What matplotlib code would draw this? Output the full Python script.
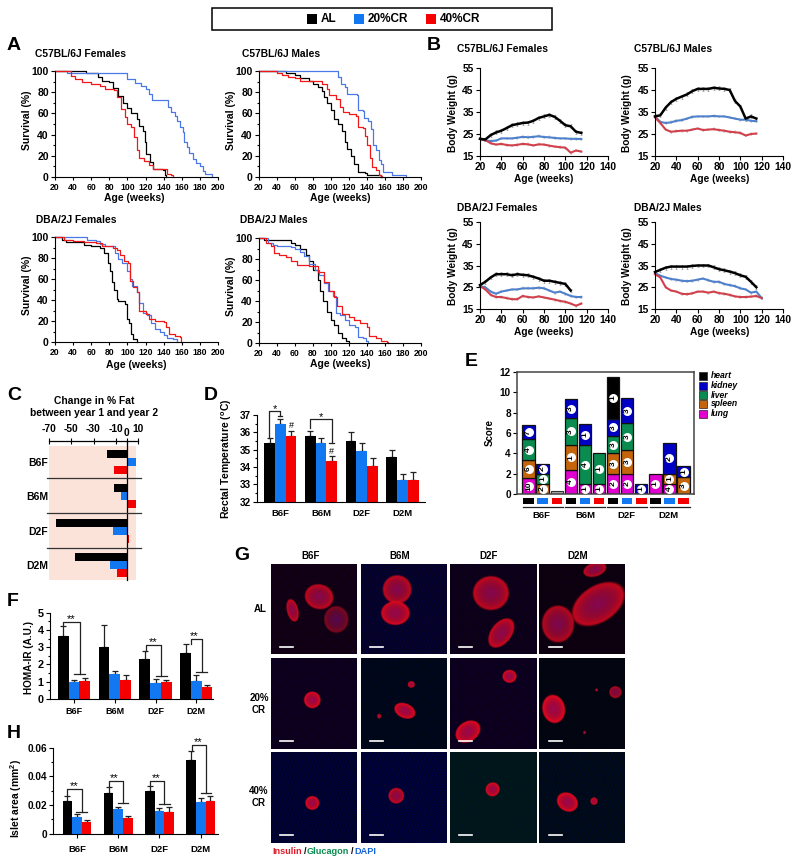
import numpy as np
import matplotlib
matplotlib.use("Agg")
import matplotlib.pyplot as plt
from matplotlib.patches import Rectangle
from matplotlib.transforms import Affine2D
from matplotlib.ticker import MultipleLocator

plt.rcParams['font.family'] = ['Liberation Sans', 'DejaVu Sans']
plt.rcParams['font.weight'] = 'bold'
plt.rcParams['axes.labelweight'] = 'bold'

BLACK, BLUE, RED = '#000000', '#1278f2', '#f40000'
LBLUE, LRED = '#4a78e6', '#f01818'
WBLUE, WRED = '#4f80cc', '#d2404c'

# ---------- Panel A: survival (age, %)
S_B6F_AL = [(20,100),(54,100),(54,98),(65,98),(68,94),(72,91),(80,90),(84,84),(90,76),(95,70),(99,65),(104,60),(110,55),(113,48),(117,43),(119,33),(121,22),(125,14),(128,8),(139,7),(141,2),(143,0)]
S_B6F_20 = [(20,100),(33,98),(97,98),(99,92),(108,89),(115,86),(120,83),(124,78),(127,72.6),(141,72.6),(145,66),(148,61),(152,58),(155,53),(158,47),(161,42),(163,33),(166,28),(168,23),(172,17),(176,13),(180,10),(183,6),(186,2.5),(192,2.5),(193,0)]
S_B6F_40 = [(20,100),(36,100),(38,95),(42,92),(50,90),(60,88),(70,86),(75,83),(85,82),(88,75),(93,64),(97,57),(100,50),(104,47),(107,38),(110,25),(113,18),(118,15),(124,11),(128,8),(142,8),(144,3),(148,2),(150,0)]
S_B6M_AL = [(20,100),(50,100),(50,98),(60,96),(65,93),(75,91),(80,88),(85,85),(90,81),(92,75),(95,70),(100,63),(103,55),(108,50),(112,43),(115,33),(118,26),(122,20),(126,12),(130,5),(138,4),(140,2),(150,2),(155,0)]
S_B6M_20 = [(20,100),(105,100),(108,94),(111,88),(115,85),(118,78),(129,77),(130,63),(135,62),(137,56),(141,53),(144,45),(147,30),(150,25),(153,16),(156,12),(158,5),(167,4.5),(168,2),(182,2),(183,0)]
S_B6M_40 = [(20,100),(38,100),(40,98),(45,96),(52,94),(60,93),(65,91),(85,91),(90,88),(95,83),(98,77),(105,74),(110,66),(113,61),(120,59),(128,58),(130,47),(135,46),(138,39),(140,30),(143,18),(146,9),(150,7),(153,2),(155,1),(157,0)]
S_D2F_AL = [(20,100),(28,97),(32,95),(48,95),(52,92),(60,91),(70,90),(74,85),(78,75),(81,68),(83,57),(85,50),(88,41),(90,39),(97,36),(100,22),(102,18),(104,8),(106,3),(110,0)]
S_D2F_20 = [(20,100),(53,100),(55,97),(65,96),(70,93),(75,91),(83,91),(86,85),(90,79),(94,75),(100,68),(103,60),(105,53),(110,48),(113,37),(117,28),(122,26),(126,18),(130,12),(136,10),(140,7),(144,4),(150,3),(155,0)]
S_D2F_40 = [(20,100),(30,97),(40,96),(52,95),(65,94),(72,91),(84,90),(88,88),(92,83),(96,77),(101,75),(103,58),(106,52),(110,48),(113,30),(120,27),(124,22),(130,20),(140,19),(143,14),(146,8),(152,6),(158,5),(159,0)]
S_D2M_AL = [(20,100),(25,98),(47,98),(55,95),(60,93),(65,90),(72,84),(75,78),(80,70),(85,60),(88,50),(91,40),(95,30),(100,22),(103,17),(108,10),(112,5),(117,2),(120,0)]
S_D2M_20 = [(20,100),(30,95),(35,93),(40,92),(55,91),(60,90),(65,87),(70,83),(75,75),(82,70),(87,65),(92,57),(97,50),(102,45),(106,29),(110,27),(115,22),(120,17),(127,15),(130,6),(136,5),(139,2),(141,0)]
S_D2M_40 = [(20,100),(28,95),(33,92),(37,86),(42,84),(50,82),(55,78),(62,74),(75,73),(85,68),(92,58),(98,50),(103,44),(107,35),(112,28),(120,25),(126,22),(132,19),(140,15),(142,7),(150,5),(155,2),(162,1),(163,0)]

# ---------- Panel B: body weight, 5-week samples from week 20
W_B6F_AL = [22.8,22.5,24.5,25.7,26.5,27.7,29,29.5,30,30.2,31,32.3,33,33.7,32.8,31,29,28.5,26,25.5]
W_B6F_20 = [22.8,22,21.8,22,23,23,23,23.3,23.7,23.5,23.7,24,23.6,23.5,23.2,23,23,22.8,22.8,22.7]
W_B6F_40 = [22.8,22.2,20.8,20.2,20.5,20,19.8,20.1,20.5,20.3,19.8,20.3,20.2,19.7,19.3,19,18.8,16.5,17.5,17]
W_B6M_AL = [33,33.5,37,39.5,41,42,43,44.5,45.5,45.5,45.5,46,45.7,45.5,45,40,37.5,32,33,32]
W_B6M_20 = [33,30.5,30,30.3,31,31.3,32,32.8,33,33,33,33.2,33,33,32.5,32,31.5,31.5,31,30.8]
W_B6M_40 = [32.5,30,27,26,26.3,26.5,26.5,27,27.5,26.8,27,27.2,26.8,26.5,26,25.8,25.5,24.3,25,25.2]
W_D2F_AL = [26,27.5,29.5,31,31,31,30.5,31,30.7,30.5,29.8,29,28,28,27.5,27,26.5,23.5]
W_D2F_20 = [25.5,25,23,22,23,23.5,24,24,24.5,24.5,24.5,24.8,24.5,23.5,22.5,23,22,21,20.5,20.5]
W_D2F_40 = [25.5,24,21.5,20.5,20.5,20,19.5,19.5,21,20.5,20.3,20.8,20.3,19.8,19.3,18.7,18.3,17.5,16.5,17.5]
W_D2M_AL = [32,33,34,34.5,34.5,34.5,34.5,34.8,35,35,35,34.2,33.3,32.8,32.2,31.5,30.5,29.8,27.5,25]
W_D2M_20 = [31.5,30.3,29.5,28.8,28.5,28,27.8,28,28.5,29,28.2,27.5,27.5,26.5,26,25.5,24.5,24,22.5,23,20]
W_D2M_40 = [31,29.5,25,23.5,23,22,21.8,22.2,23,23,22.5,23,22.3,22,21.5,20.8,20.5,20.5,20.7,21,20]

GROUPS = ['B6F', 'B6M', 'D2F', 'D2M']

# ---------- Panel C
FAT_AL = [-18, -12, -64, -47]
FAT_20 = [8, -5, -12.6, -15.5]
FAT_40 = [-12, 8, 1.5, -8.5]

# ---------- Panel D
TEMP_AL = [35.37, 35.8, 35.5, 34.6]
TEMP_20 = [36.5, 35.37, 34.9, 33.25]
TEMP_40 = [35.8, 34.33, 34.04, 33.25]
TEMP_AL_TOP = [35.65, 36.1, 36.0, 34.96]
TEMP_20_TOP = [36.77, 35.65, 35.37, 33.58]
TEMP_40_TOP = [36.1, 34.63, 34.5, 33.7]

# ---------- Panel E
E_HEART  = [0,0,0, 0,0,0, 4.1,0,0, 0,0,0]
E_KIDNEY = [1.35,1,0, 1.8,2.05,0, 1.7,2.4,1, 0,3,1.1]
E_LIVER  = [2.1,1,0, 2.65,3.8,3, 1.7,2.7,0, 0,0,0]
E_SPLEEN = [1.7,1,0, 2.5,0,0, 2,2.3,0, 0,1,1.65]
E_LUNG   = [1.6,0,0, 2.35,1,1, 2,2,0, 2,1,0]
E_OTHER  = [0,0,0.25, 0,0,0, 0,0,0, 0,0,0]
N_HEART  = [0,0,0, 0,0,0, 1,0,0, 0,0,0]
N_KIDNEY = [7,2,0, 3,1,0, 3,3,1, 0,2,1]
N_LIVER  = [4,1,0, 3,4,1, 3,3,0, 0,0,0]
N_SPLEEN = [6,2,0, 1,0,0, 3,3,0, 0,1,3]
N_LUNG   = [10,0,0, 4,1,1, 2,2,0, 1,4,0]

# ---------- Panel F
HOMA_AL = [3.65, 3.01, 2.32, 2.66]
HOMA_20 = [1.0, 1.45, 0.95, 1.02]
HOMA_40 = [1.06, 1.12, 0.98, 0.68]
HOMA_AL_TOP = [4.23, 4.29, 2.76, 3.17]
HOMA_20_TOP = [1.1, 1.62, 1.14, 1.37]
HOMA_40_TOP = [1.2, 1.37, 1.08, 0.79]

# ---------- Panel H
ISLET_AL = [.0228, .0286, .03, .0516]
ISLET_20 = [.0116, .0172, .0158, .0219]
ISLET_40 = [.0084, .0109, .0153, .0228]
ISLET_AL_TOP = [.026, .0323, .0335, .0577]
ISLET_20_TOP = [.0135, .0188, .0177, .0249]
ISLET_40_TOP = [.0095, .0121, .0184, .0263]

# ---------- Panel G: islets (row, col, cx, cy, rx, ry, angle, brightness)
ISLETS = [
 (0,0,.25,.52,.065,.125,-15,.9),(0,0,.56,.37,.165,.135,10,.85),(0,0,.76,.62,.14,.145,0,.55),
 (0,1,.42,.29,.165,.155,0,.85),(0,1,.40,.55,.165,.13,0,.95),
 (0,2,.47,.33,.205,.185,0,.85),(0,2,.59,.77,.115,.185,40,.9),
 (0,3,.65,.07,.135,.075,-15,.85),(0,3,.69,.45,.33,.2,-30,.85),(0,3,.22,.67,.185,.2,0,.8),
 (1,0,.48,.46,.095,.09,0,1),
 (1,1,.51,.58,.125,.08,20,1),(1,1,.585,.29,.04,.035,0,1),(1,1,.21,.64,.023,.025,0,1),
 (1,2,.685,.20,.08,.07,0,1),(1,2,.205,.81,.15,.11,-30,1),
 (1,3,.17,.56,.13,.155,-15,1),(1,3,.89,.375,.07,.065,0,.8),(1,3,.67,.35,.016,.015,0,1),(1,3,.53,.82,.016,.015,0,1),
 (2,0,.48,.56,.08,.075,0,1),
 (2,1,.41,.48,.09,.085,0,.9),
 (2,2,.49,.41,.08,.075,-20,1),
 (2,3,.33,.55,.125,.1,25,1),(2,3,.64,.54,.04,.04,0,1),
]
PANEL_TINT = [[(.07,0,.03),(.02,.01,.10),(.05,0,.05),(.05,0,.03)],
              [(.05,0,.08),(0,.03,.05),(.05,0,.07),(.01,.02,.03)],
              [(0,.01,.11),(0,.01,.13),(0,.09,.07),(0,.04,.04)]]
PANEL_SPECKLE = [[.22,.30,.22,.14],[.16,.22,.22,.14],[.34,.34,.16,.28]]

W, H = 800, 865
fig = plt.figure(figsize=(W/100, H/100), dpi=100, facecolor='white')
pxT = Affine2D().scale(1/W, -1/H).translate(0, 1) + fig.transFigure


def axpx(x0, x1, ytop, ybot, **kw):
    return fig.add_axes([x0/W, 1-ybot/H, (x1-x0)/W, (ybot-ytop)/H], **kw)


def T(x, y, s, size=7, **kw):
    kw.setdefault('ha', 'left')
    kw.setdefault('va', 'center')
    kw.setdefault('fontweight', 'bold')
    return fig.text(x, y, s, transform=pxT, fontsize=size, **kw)


def box(x0, y0, x1, y1, **kw):
    fig.add_artist(Rectangle((x0, y0), x1-x0, y1-y0, transform=pxT, **kw))


def style(ax, lw=0.8, tl=3, fs=7.5):
    for s in ['top', 'right']:
        ax.spines[s].set_visible(False)
    for s in ['left', 'bottom']:
        ax.spines[s].set_linewidth(lw)
    ax.tick_params(which='major', length=tl, width=lw, labelsize=fs, pad=1.5)
    ax.tick_params(which='minor', length=tl*0.6, width=lw)
    ax.patch.set_alpha(0)


# ---------- legend on top
box(212, 8, 552, 30, facecolor='white', edgecolor='black', lw=1.1)
for x, c, s in [(307, BLACK, 'AL'), (354, BLUE, '20%CR'), (426, RED, '40%CR')]:
    box(x, 14, x+9.5, 24, facecolor=c, edgecolor='none')
    T(x+14, 19.3, s, size=8.5)

# ---------- panel letters
for s, x, y in [('A',7,45),('B',427,45),('C',7,395),('D',204,395),('E',465,362),('F',7,601),('G',234,555),('H',7,733)]:
    T(x, y, s, size=14)

# ---------- A
A_PANELS = [
    (55,218,71,177,'C57BL/6J Females',35,54,(S_B6F_AL,S_B6F_20,S_B6F_40),134,198),
    (259,421,71,177,'C57BL/6J Males',242,54,(S_B6M_AL,S_B6M_20,S_B6M_40),340,198),
    (55,218,237,342,'DBA/2J Females',36,220,(S_D2F_AL,S_D2F_20,S_D2F_40),136.5,365),
    (259,421,238,343,'DBA/2J Males',240,220,(S_D2M_AL,S_D2M_20,S_D2M_40),340.5,364),
]
for x0,x1,yt,yb,title,tx,ty,curves,lx,ly in A_PANELS:
    ax = axpx(x0,x1,yt,yb)
    for c, col in zip(curves,(BLACK,LBLUE,LRED)):
        a, s = np.array(c).T
        ax.step(a, s, where='post', color=col, lw=0.9, clip_on=False)
    ax.set_xlim(20,200); ax.set_ylim(0,100)
    ax.set_xticks(range(20,201,20)); ax.set_yticks(range(0,101,20))
    ax.yaxis.set_minor_locator(MultipleLocator(10))
    style(ax)
    ax.tick_params(axis='x', labelsize=6.2, pad=1.5, length=2.5)
    ax.set_xlabel('Age (weeks)', fontsize=7.5, va='center')
    ax.xaxis.set_label_coords(lx, ly, transform=pxT)
    ax.set_ylabel('Survival (%)', fontsize=7.5, va='center')
    ax.yaxis.set_label_coords(x0-28.5, (yt+yb)/2-4, transform=pxT)
    T(tx, ty, title, size=7.4)

# ---------- B
B_PANELS = [
    (480,608,68,156,'C57BL/6J Females',457,49,(W_B6F_AL,W_B6F_20,W_B6F_40),544,179),
    (655,783,68,156,'C57BL/6J Males',634,49,(W_B6M_AL,W_B6M_20,W_B6M_40),720,179),
    (480,608,222,309,'DBA/2J Females',457,208,(W_D2F_AL,W_D2F_20,W_D2F_40),544,332),
    (655,783,222,309,'DBA/2J Males',634,208,(W_D2M_AL,W_D2M_20,W_D2M_40),720,332),
]
for x0,x1,yt,yb,title,tx,ty,curves,lx,ly in B_PANELS:
    ax = axpx(x0,x1,yt,yb)
    for c, col, lw in zip(curves,(BLACK,WBLUE,WRED),(1.8,1.5,1.5)):
        vals = np.array(c)
        ages = np.arange(20, 20+5*len(vals), 5)
        if col == BLACK:
            ax.errorbar(ages, vals, yerr=0.9, fmt='none', ecolor='#888888', elinewidth=0.5, capsize=1, capthick=0.4, zorder=1)
        else:
            ax.errorbar(ages, vals, yerr=0.4, fmt='none', ecolor='#999999', elinewidth=0.4, capsize=0.8, capthick=0.3, zorder=1)
        ax.plot(ages, vals, color=col, lw=lw, zorder=3 if col==BLACK else 2, clip_on=False)
    ax.set_xlim(20,140); ax.set_ylim(15,55)
    ax.set_xticks(range(20,141,20)); ax.set_yticks([15,25,35,45,55])
    style(ax, fs=7.4)
    ax.set_xlabel('Age (weeks)', fontsize=7.3, va='center')
    ax.xaxis.set_label_coords(lx, ly, transform=pxT)
    ax.set_ylabel('Body Weight (g)', fontsize=7.3, va='center')
    ax.yaxis.set_label_coords(x0-27.5, (yt+yb)/2+1, transform=pxT)
    T(tx, ty, title, size=7.4)

# ---------- C
ax = axpx(49,138,441,580)
ax.set_xlim(-70,10); ax.set_ylim(3.43,-0.6)
ax.set_facecolor('none')
ax.axvspan(-70, 8.3, ymin=0, ymax=(3.43+0.45)/4.03, color='#fbe3da', lw=0, zorder=0)
ypos = np.arange(4)
for off, vals, c in [(-.232,FAT_AL,BLACK),(0,FAT_20,BLUE),(.232,FAT_40,RED)]:
    ax.barh(ypos+off, vals, height=.222, color=c, zorder=2)
ax.axvline(0, color='black', lw=0.9, zorder=3, clip_on=False)
for y in [.47,1.49,2.5]:
    ax.plot([-71.8,12.7],[y,y], color='#333333', lw=0.9, clip_on=False, zorder=3)
ax.xaxis.tick_top()
ax.set_xticks([-70,-50,-30,-10,0,10])
ax.set_xticklabels(['-70','-50','-30','-10','0','10'])
ax.set_yticks(ypos); ax.set_yticklabels(GROUPS)
for s in ['left','right','bottom']:
    ax.spines[s].set_visible(False)
ax.spines['top'].set_linewidth(0.9)
ax.tick_params(axis='x', direction='inout', length=4, width=0.8, labelsize=7.4, pad=3)
ax.tick_params(axis='y', length=0, labelsize=7.5, pad=0.5)
zero = ax.get_xticklabels()[4]
zero.set_transform(zero.get_transform()+Affine2D().translate(0,-4))
T(94, 400.7, 'Change in % Fat', size=7.4, ha='center')
T(94, 412.7, 'between year 1 and year 2', size=7.4, ha='center')


def grouped(ax, series, tops, w):
    x = np.arange(4)
    for off, v, t, c in zip((-w,0,w), series, tops, (BLACK,BLUE,RED)):
        ax.bar(x+off, v, width=w, color=c, zorder=2)
        v, t = np.array(v), np.array(t)
        ax.errorbar(x+off, v, yerr=[np.zeros(4), t-v], fmt='none', ecolor='#222222', elinewidth=0.9, capsize=2.2, capthick=0.9, zorder=1)
    ax.set_xticks(x); ax.set_xticklabels(GROUPS)


def bracket(ax, xl, xr, ytop, lb, rb, cl, cr, sx, sy, mark='**'):
    ax.plot([xl,xl,xr,xr],[lb,ytop,ytop,rb], color='#222222', lw=0.9, clip_on=False, zorder=4)
    ax.plot([cl,cr],[rb,rb], color='#222222', lw=0.9, clip_on=False, zorder=4)
    ax.text(sx, sy, mark, ha='center', va='center', fontsize=8, fontweight='normal', clip_on=False)

# ---------- D
ax = axpx(257,425,415,501.7)
grouped(ax, (TEMP_AL,TEMP_20,TEMP_40), (TEMP_AL_TOP,TEMP_20_TOP,TEMP_40_TOP), .264)
ax.set_xlim(-.572,3.55); ax.set_ylim(32,37)
ax.yaxis.set_major_locator(MultipleLocator(1)); ax.yaxis.set_minor_locator(MultipleLocator(.5))
style(ax, fs=7.2)
ax.tick_params(axis='x', length=0, labelsize=6.8, pad=5)
ax.set_ylabel('Rectal Temperature ($\\mathregular{^{o}}$C)', fontsize=7.5, va='center')
ax.yaxis.set_label_coords(227, 459, transform=pxT)
for b in [(-.27,0,37.23,35.65,36.94,-.05,.05,-.13,37.32),(.736,1.26,36.77,36.23,35.37,1.19,1.32,.998,36.86)]:
    bracket(ax,*b,mark='*')
ax.text(.262, 36.42, '#', ha='center', va='center', fontsize=6.5, fontweight='normal')
ax.text(1.26, 34.88, '#', ha='center', va='center', fontsize=6.5, fontweight='normal')

# ---------- E
ax = axpx(517,694,372,494)
x = np.arange(12)
bottom = np.zeros(12)
STACK = [(E_LUNG,N_LUNG,'#e000d0'),(E_SPLEEN,N_SPLEEN,'#c4650c'),(E_LIVER,N_LIVER,'#0a8c50'),(E_KIDNEY,N_KIDNEY,'#0000c4'),(E_HEART,N_HEART,'#000000')]
for vals, ns, col in STACK:
    vals = np.array(vals, float)
    ax.bar(x[vals>0], vals[vals>0], bottom=bottom[vals>0], width=.88, color=col, edgecolor='#111111', lw=0.9, zorder=2)
    for i in x:
        if ns[i]:
            yc = bottom[i]+vals[i]/2
            ax.scatter([i],[yc], s=42, color='white', zorder=3, lw=0)
            ax.text(i, yc, str(ns[i]), rotation=90, ha='center', va='center', fontsize=6, zorder=4)
    bottom += vals
other = np.array(E_OTHER)
ax.bar(x[other>0], other[other>0], width=.88, color='#aaaaaa', edgecolor='#333333', lw=0.8, zorder=2)
ax.set_xlim(-.82,11.74); ax.set_ylim(0,12)
ax.set_xticks([]); ax.set_yticks(range(0,13,2))
ax.tick_params(length=3, width=0.8, labelsize=7.2, pad=1.5)
for s in ax.spines.values():
    s.set_linewidth(1.1); s.set_color('#444444')
ax.set_ylabel('Score', fontsize=7, va='center')
ax.yaxis.set_label_coords(490, 433, transform=pxT)
for i in x:
    ax.bar(i, -.58, bottom=-.4, width=.74, color=(BLACK,BLUE,RED)[i%3], clip_on=False)
for (a,b),lab,c in zip([(-.39,2.41),(2.62,5.41),(5.6,8.43),(8.61,11.46)],GROUPS,(.91,4.04,6.96,9.92)):
    ax.plot([a,b],[-1.28,-1.28], color='#222222', lw=0.9, clip_on=False)
    ax.text(c, -2.16, lab, ha='center', va='center', fontsize=6.8, clip_on=False)
for y, lab, col in zip([376,385.5,395,404,413.5],['heart','kidney','liver','spleen','lung'],['#000000','#0000c4','#0a8c50','#c4650c','#e000d0']):
    box(699, y-4, 707, y+4, facecolor=col, edgecolor='#222222', lw=0.5)
    T(711, y, lab, size=6.2, style='italic')

# ---------- F
ax = axpx(50,213,612.7,699)
grouped(ax, (HOMA_AL,HOMA_20,HOMA_40), (HOMA_AL_TOP,HOMA_20_TOP,HOMA_40_TOP), .264)
ax.set_xlim(-.588,3.41); ax.set_ylim(0,5)
ax.yaxis.set_major_locator(MultipleLocator(1)); ax.yaxis.set_minor_locator(MultipleLocator(.5))
style(ax, fs=7.8)
ax.tick_params(axis='x', labelsize=6.5, length=3, pad=2.5)
ax.set_ylabel('HOMA-IR (A.U.)', fontsize=7.2, va='center')
ax.yaxis.set_label_coords(29, 657, transform=pxT)
for b in [(-.26,.147,4.48,4.23,1.45,0,.27,-.07,4.62),(1.755,2.13,3.11,2.76,1.35,2.008,2.27,1.94,3.27),(2.88,3.135,3.46,3.17,1.58,3.0,3.265,2.94,3.62)]:
    bracket(ax,*b)

# ---------- H
ax = axpx(53,218,747.7,833.7)
grouped(ax, (ISLET_AL,ISLET_20,ISLET_40), (ISLET_AL_TOP,ISLET_20_TOP,ISLET_40_TOP), .234)
ax.set_xlim(-.582,3.42); ax.set_ylim(0,.06)
ax.set_yticks([0,.02,.04,.06]); ax.set_yticklabels(['0','0.02','0.04','0.06'])
ax.yaxis.set_minor_locator(MultipleLocator(.01))
style(ax, fs=7.2)
ax.tick_params(axis='x', labelsize=6.8, length=3, pad=5)
ax.set_ylabel('Islet area (mm$\\mathregular{^{2}}$)', fontsize=7.5, va='center')
ax.yaxis.set_label_coords(16, 798, transform=pxT)
for b in [(-.243,.113,.0312,.026,.0153,-.016,.243,-.08,.0335),(.768,1.116,.0367,.0323,.0212,.994,1.245,.913,.039),(1.77,2.118,.0365,.0335,.0207,1.989,2.247,1.932,.039),(2.797,3.128,.0616,.0577,.0286,3.0,3.258,2.943,.064)]:
    bracket(ax,*b)

# ---------- G
COLS = [(271,356.7),(360.7,446.3),(449.7,536),(539.3,625.3)]
ROWS = [(563.7,654.3),(658,748.7),(752.3,842.7)]
yy, xx = np.mgrid[0:1:270j, 0:1:258j]
for r,(yt,yb) in enumerate(ROWS):
    for c,(x0,x1) in enumerate(COLS):
        ax = axpx(x0,x1,yt,yb)
        tint = PANEL_TINT[r][c]
        tex = (np.sin(xx*211+yy*37+r)*np.sin(yy*233-xx*53+c)
               + 0.7*np.sin(xx*97-yy*143+2*c+r)*np.sin(xx*61+yy*89+3*r))
        tex = np.clip(tex,0,1)
        img = np.zeros(xx.shape+(3,))
        img[...,0] = tint[0]
        img[...,1] = tint[1]
        img[...,2] = tint[2]+PANEL_SPECKLE[r][c]*tex
        for (ir,ic,cx,cy,rx,ry,ang,br) in ISLETS:
            if ir!=r or ic!=c:
                continue
            t = np.deg2rad(ang)
            dx, dy = xx-cx, yy-cy
            u = (dx*np.cos(t)+dy*np.sin(t))/rx
            v = (-dx*np.sin(t)+dy*np.cos(t))/ry
            d = np.sqrt(u*u+v*v)
            a = np.clip((1.06-d)/0.12,0,1)[...,None]
            red = br*(0.62+0.33*np.clip(d,0,1)**3)
            col = np.stack([red, 0.03*np.ones_like(d), 0.22*(1-d.clip(0,1))+0.10],axis=-1)
            img = img*(1-a)+col*a
        ax.imshow(img, extent=(0,1,1,0), aspect='auto', interpolation='bilinear')
        ax.plot([.11,.26],[.92,.92], color='white', lw=1.2)
        ax.set_xlim(0,1); ax.set_ylim(1,0)
        ax.axis('off')
for g,cx in zip(GROUPS,[311,400,489,578]):
    T(cx, 556, g, size=7, ha='center')
T(260, 609, 'AL', size=7, ha='center')
T(259, 698, '20%', size=7, ha='center'); T(259, 710, 'CR', size=7, ha='center')
T(259, 791, '40%', size=7, ha='center'); T(259, 803, 'CR', size=7, ha='center')
for x_, s, col in [(272,'Insulin','#e01a28'),(303.6,'/','black'),(306.7,'Glucagon','#0a8c50'),(350.6,'/','black'),(354,'DAPI','#1464d8')]:
    T(x_, 851.7, s, size=6.6, color=col)

fig.savefig('out.png', dpi=100, facecolor='white')
